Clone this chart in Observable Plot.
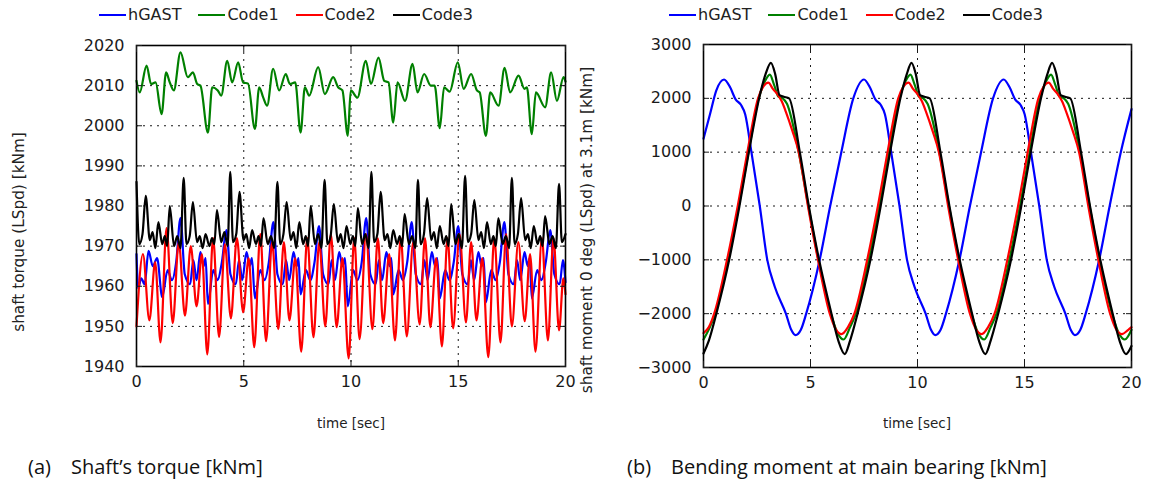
<!DOCTYPE html>
<html>
<head>
<meta charset="utf-8">
<script src="https://cdn.jsdelivr.net/npm/d3@7"></script>
<script src="https://cdn.jsdelivr.net/npm/@observablehq/plot@0.6"></script>
<style>
  body { margin: 0; background: #fff; }
  #root { position: relative; width: 1149px; height: 486px; overflow: hidden; background: #fff; font-family: "DejaVu Sans", sans-serif; color: #222; }
  .panel { position: absolute; top: 0; }
  .legend { position: absolute; top: 5px; display: flex; align-items: center; font-size: 16px; white-space: nowrap; }
  .legend .item { display: flex; align-items: center; margin-right: 17px; }
  .legend .sw { width: 27px; height: 2px; margin-right: 2px; }
  .ylab { position: absolute; font-size: 15.3px; white-space: nowrap; transform: translate(-50%, -50%) rotate(-90deg); }
  .xlab { position: absolute; font-size: 13.5px; white-space: nowrap; transform: translate(-50%, -50%); }
  .cap { position: absolute; top: 453px; font-family: "Open Sans", sans-serif; font-size: 20px; color: #111; white-space: nowrap; }
</style>
</head>
<body>
<div id="root"></div>
<script>
// ---------- series meta ----------
const seriesNames = ["hGAST", "Code1", "Code2", "Code3"];
const seriesColors = ["#0000ff", "#008000", "#ff0000", "#000000"];

// ---------- axis ticks ----------
const timeTicks = [0, 5, 10, 15, 20];
const torqueTicks = [1940, 1950, 1960, 1970, 1980, 1990, 2000, 2010, 2020];
const momentTicks = [-3000, -2000, -1000, 0, 1000, 2000, 3000];

// ---------- (a) shaft torque [kNm] ----------
const hgastT_a = [0,0.08,0.22,0.38,0.56,0.76,0.96,1.2,1.45,1.65,1.85,2.05,2.25,2.5,2.65,2.8,2.98,3.13,3.22,3.33,3.58,3.78,3.98,4.19,4.38,4.63,4.78,4.93,5.13,5.28,5.38,5.52,5.77,5.97,6.17,6.38,6.57,6.82,6.97,7.12,7.32,7.47,7.55,7.65,7.9,8.1,8.3,8.51,8.7,8.95,9.1,9.25,9.45,9.6,9.72,9.85,10.1,10.3,10.5,10.71,10.9,11.15,11.3,11.45,11.65,11.8,11.88,11.97,12.22,12.42,12.62,12.83,13.02,13.27,13.42,13.57,13.77,13.92,14.02,14.14,14.39,14.59,14.79,15.0,15.19,15.44,15.59,15.74,15.94,16.09,16.18,16.29,16.54,16.74,16.94,17.15,17.34,17.59,17.74,17.89,18.09,18.24,18.33,18.43,18.68,18.88,19.08,19.29,19.48,19.73,19.88,20.0];
const hgastV_a = [1968,1959.5,1962,1960.5,1968.8,1965,1967,1957.3,1964,1961.5,1966,1977,1963,1960.5,1966.5,1961.5,1968.5,1965,1967,1955.6,1964,1961.5,1966,1974,1963,1960.5,1966.5,1961.5,1968.5,1965,1967,1957,1964,1961.5,1966,1976,1963,1960.5,1966.5,1961.5,1968.5,1965,1967,1958,1964,1961.5,1966,1975,1963,1960.5,1966.5,1961.5,1968.5,1965,1967,1955,1964,1961.5,1966,1977,1963,1960.5,1966.5,1961.5,1968.5,1965,1967,1958,1964,1961.5,1966,1976,1963,1960.5,1966.5,1961.5,1968.5,1965,1967,1957,1964,1961.5,1966,1975,1963,1960.5,1966.5,1961.5,1968.5,1965,1967,1956,1964,1961.5,1966,1976,1963,1960.5,1966.5,1961.5,1968.5,1965,1967,1957,1964,1961.5,1966,1974,1963,1960.5,1966.5,1961];

const code1T_a = [0,0.15,0.47,0.68,0.89,1.17,1.38,1.55,1.74,2.05,2.39,2.63,2.83,2.98,3.33,3.53,3.79,3.95,4.23,4.46,4.74,4.97,5.2,5.52,5.72,5.91,6.09,6.37,6.65,6.96,7.15,7.4,7.65,7.85,8.05,8.47,8.78,9.17,9.4,9.6,9.85,9.99,10.3,10.69,10.93,11.28,11.55,11.75,11.97,12.17,12.52,12.87,13.1,13.41,13.72,13.9,14.14,14.34,14.6,14.98,15.25,15.6,15.87,16.0,16.29,16.49,16.88,17.16,17.42,17.81,18.09,18.2,18.43,18.62,19.05,19.33,19.6,19.91,20.0];
const code1V_a = [2011.2,2008.3,2015,2010.4,2010.8,2002.9,2013.3,2010.8,2008.8,2018.3,2012.1,2013.3,2010.4,2010,1998.3,2009.6,2008.8,2007.5,2016.2,2010.8,2015.8,2010.8,2010.5,1999.2,2009.6,2007,2005,2014.2,2008.8,2012.9,2010.4,2010.8,1998.3,2009.6,2007.5,2014.6,2007.9,2012.1,2009.6,2008.8,1997.5,2008.8,2007,2016.2,2010.4,2017,2011.2,2010.8,2000.8,2010.8,2006.2,2015.4,2008.3,2012.9,2010,2010,1999.4,2009.6,2008.5,2015.8,2009.2,2012.9,2008.8,2008.3,1997.5,2008.3,2005,2014.4,2008.3,2012.5,2009.2,2009.6,1997.9,2008.3,2004.6,2013.3,2006.2,2012.1,2011];

const code2T_a = [0,0.3,0.6,0.87,1.12,1.4,1.69,1.97,2.26,2.53,2.8,3.05,3.3,3.57,3.85,4.12,4.4,4.68,4.97,5.23,5.49,5.77,6.04,6.32,6.61,6.87,7.13,7.4,7.68,7.96,8.25,8.52,8.8,9.06,9.33,9.6,9.89,10.15,10.4,10.7,11.0,11.25,11.5,11.78,12.05,12.32,12.6,12.9,13.2,13.45,13.7,13.97,14.24,14.5,14.76,15.06,15.36,15.6,15.85,16.12,16.4,16.68,16.97,17.23,17.5,17.8,18.1,18.35,18.6,18.9,19.18,19.44,19.7,19.9,20.0];
const code2V_a = [1950,1968,1951.5,1966,1946,1974.5,1950.8,1971,1952.7,1970,1955,1968,1943,1972,1947.4,1970.5,1952,1972,1953.5,1967,1944.8,1973,1946.3,1971,1949.3,1971,1951.5,1967,1943.7,1972,1947.3,1971,1950,1973,1949.8,1967,1942,1972,1946.8,1973,1949.3,1972,1950.8,1968,1946.5,1972,1947.5,1971,1950.5,1972,1949.8,1967,1945,1972,1949.5,1973,1951,1971,1951.5,1967,1942.3,1972,1946,1973,1950,1971,1951.3,1968,1943.7,1972,1946.5,1972,1949,1962,1958];

const code3T_a = [0,0.13,0.28,0.43,0.62,0.75,0.88,1.02,1.2,1.32,1.43,1.55,1.75,1.9,2.05,
  2.2,2.33,2.48,2.63,2.82,2.95,3.08,3.22,3.4,3.52,3.63,3.75,3.95,4.1,4.25,
  4.37,4.5,4.65,4.8,4.99,5.12,5.25,5.39,5.57,5.69,5.8,5.92,6.12,6.27,6.42,
  6.57,6.7,6.85,7.0,7.19,7.32,7.45,7.59,7.77,7.89,8.0,8.12,8.32,8.47,8.62,
  8.77,8.9,9.05,9.2,9.39,9.52,9.65,9.79,9.97,10.09,10.2,10.32,10.52,10.67,10.82,
  10.95,11.08,11.23,11.38,11.57,11.7,11.83,11.97,12.15,12.27,12.38,12.5,12.7,12.85,13.0,
  13.12,13.25,13.4,13.55,13.74,13.87,14.0,14.14,14.32,14.44,14.55,14.67,14.87,15.02,15.17,
  15.32,15.45,15.6,15.75,15.94,16.07,16.2,16.34,16.52,16.64,16.75,16.87,17.07,17.22,17.37,
  17.5,17.63,17.78,17.93,18.12,18.25,18.38,18.52,18.7,18.82,18.93,19.05,19.25,19.4,19.55,
  19.7,19.83,20.0];
const code3V_a = [1986,1970.5,1973,1982.5,1971.5,1973.5,1969.5,1976,1970.5,1972.5,1970,1980,1970,1972.5,1969.5,
  1987,1970.5,1972.5,1981,1971,1972.5,1969.5,1973,1970,1972,1970.5,1979,1971,1973.5,1970,
  1988.5,1971,1973,1983.5,1971.5,1973,1969.5,1974,1970.5,1972.5,1970,1977,1970.5,1972.5,1969.5,
  1986,1970.5,1973,1981,1971.5,1973.5,1969.5,1976,1970.5,1972.5,1970,1980,1970.5,1973,1969.5,
  1986.5,1970.5,1972.5,1980.5,1971,1973,1969.5,1975,1970.5,1972.5,1970,1979.5,1970.5,1973,1969.5,
  1988.5,1971,1973,1983.5,1971.5,1973,1969.5,1974,1970.5,1972.5,1970,1978,1970.5,1972.5,1969.5,
  1986.5,1970.5,1973,1982,1971.5,1973.5,1969.5,1975,1970.5,1972.5,1970,1980.5,1970.5,1973,1969.5,
  1987.5,1971,1973,1981.5,1971.5,1973.5,1969.5,1976,1970.5,1972.5,1970,1977,1970.5,1972.5,1969.5,
  1987,1970.5,1973,1982,1971.5,1973,1969.5,1975,1970.5,1972.5,1970,1977.5,1970.5,1972.5,1969.5,
  1985.5,1971,1973];

// ---------- (b) bending moment at main bearing [kNm] ----------
const hgastT_b = [0,0.3,0.6,0.96,1.25,1.5,1.75,1.95,2.24,2.63,2.98,3.33,3.85,4.1,4.3,4.55,4.8,5.43,5.92,6.44,7.0,7.5,7.78,8.03,8.28,8.48,8.77,9.16,9.51,9.86,10.38,10.63,10.83,11.08,11.33,11.96,12.45,12.97,13.53,14.03,14.31,14.56,14.81,15.01,15.3,15.69,16.04,16.39,16.91,17.16,17.36,17.61,17.86,18.49,18.98,19.5,20.0];
const hgastV_b = [1250,1700,2150,2350,2200,1980,1880,1700,1000,0,-1000,-1500,-2000,-2300,-2400,-2300,-2000,-1000,0,1000,2000,2350,2200,1980,1880,1700,1000,0,-1000,-1500,-2000,-2300,-2400,-2300,-2000,-1000,0,1000,2000,2350,2200,1980,1880,1700,1000,0,-1000,-1500,-2000,-2300,-2400,-2300,-2000,-1000,0,1000,1800];

const code1T_b = [0,0.3,0.55,1.15,1.65,2.1,2.58,2.85,3.1,3.3,3.5,3.7,3.9,4.45,4.9,5.37,5.95,6.25,6.55,6.85,7.12,7.72,8.22,8.67,9.15,9.42,9.67,9.87,10.07,10.27,10.47,11.02,11.47,11.94,12.52,12.82,13.12,13.42,13.69,14.29,14.79,15.24,15.72,15.99,16.24,16.44,16.64,16.84,17.04,17.59,18.04,18.51,19.09,19.39,19.69,20.0];
const code1V_b = [-2480,-2250,-2000,-1000,0,1000,2000,2300,2440,2250,2030,2000,1900,1000,0,-1000,-2000,-2350,-2480,-2250,-2000,-1000,0,1000,2000,2300,2440,2250,2030,2000,1900,1000,0,-1000,-2000,-2350,-2480,-2250,-2000,-1000,0,1000,2000,2300,2440,2250,2030,2000,1900,1000,0,-1000,-2000,-2350,-2480,-2300];

const code2T_b = [0,0.25,0.5,1.1,1.6,2.05,2.55,2.8,3.03,3.25,3.45,3.65,3.85,4.15,4.45,4.88,5.35,5.9,6.2,6.45,6.75,7.05,7.65,8.15,8.6,9.1,9.35,9.58,9.8,10.0,10.2,10.4,10.7,11.0,11.43,11.9,12.45,12.75,13.0,13.3,13.6,14.2,14.7,15.15,15.65,15.9,16.13,16.35,16.55,16.75,16.95,17.25,17.55,17.98,18.45,19.0,19.3,19.55,19.85,20.0];
const code2V_b = [-2360,-2250,-2000,-1000,0,1000,2000,2220,2290,2170,2080,1950,1750,1400,1000,0,-1000,-2000,-2300,-2380,-2250,-2000,-1000,0,1000,2000,2220,2290,2170,2080,1950,1750,1400,1000,0,-1000,-2000,-2300,-2380,-2250,-2000,-1000,0,1000,2000,2220,2290,2170,2080,1950,1750,1400,1000,0,-1000,-2000,-2300,-2380,-2300,-2250];

const code3T_b = [0,0.25,0.6,1.2,1.68,2.12,2.6,2.9,3.15,3.35,3.55,3.75,4.0,4.5,4.92,5.4,5.98,6.3,6.6,6.85,7.2,7.8,8.28,8.72,9.2,9.5,9.72,9.92,10.12,10.32,10.57,11.07,11.49,11.97,12.55,12.87,13.17,13.42,13.77,14.37,14.85,15.29,15.77,16.07,16.29,16.49,16.69,16.89,17.14,17.64,18.06,18.54,19.12,19.44,19.74,20.0];
const code3V_b = [-2740,-2500,-2000,-1000,0,1000,2000,2450,2660,2450,2060,2030,2000,1000,0,-1000,-2000,-2500,-2750,-2500,-2000,-1000,0,1000,2000,2450,2660,2450,2060,2030,2000,1000,0,-1000,-2000,-2500,-2750,-2500,-2000,-1000,0,1000,2000,2450,2660,2450,2060,2030,2000,1000,0,-1000,-2000,-2500,-2750,-2600];

// ---------- build tables ----------
function rows(name, T, V) { return T.map((t, i) => ({series: name, t, v: V[i]})); }
const dataA = [
  ...rows("hGAST", hgastT_a, hgastV_a), ...rows("Code1", code1T_a, code1V_a),
  ...rows("Code2", code2T_a, code2V_a), ...rows("Code3", code3T_a, code3V_a)
];
const dataB = [
  ...rows("hGAST", hgastT_b, hgastV_b), ...rows("Code1", code1T_b, code1V_b),
  ...rows("Code2", code2T_b, code2V_b), ...rows("Code3", code3T_b, code3V_b)
];

const fmt = d3.format("d");

function makePlot(data, yDomain, yTicks, m) {
  return Plot.plot({
    width: 575, height: 440,
    marginLeft: m.left, marginRight: m.right, marginTop: m.top, marginBottom: 440 - m.bottomY,
    x: {domain: [0, 20], ticks: timeTicks},
    y: {domain: yDomain, ticks: yTicks},
    color: {domain: seriesNames, range: seriesColors},
    style: {fontFamily: "DejaVu Sans, sans-serif", fontSize: "16px", color: "#1a1a1a", background: "transparent", overflow: "visible"},
    marks: [
      Plot.gridX(timeTicks, {stroke: "#000", strokeOpacity: 0.9, strokeDasharray: "2,5", strokeWidth: 1}),
      Plot.gridY(yTicks, {stroke: "#000", strokeOpacity: 0.9, strokeDasharray: "2,5", strokeWidth: 1}),
      Plot.line(data, {x: "t", y: "v", z: "series", stroke: "series", strokeWidth: 2.2, curve: "monotone-x"}),
      Plot.frame({stroke: "#000", strokeWidth: 1.6}),
      Plot.axisX(timeTicks, {anchor: "bottom", tickSize: -6, tickPadding: 15, tickFormat: fmt, label: null, fontSize: 16}),
      Plot.axisX(timeTicks, {anchor: "top", tickSize: -6, tickFormat: () => "", label: null}),
      Plot.axisY(yTicks, {anchor: "left", tickSize: -6, tickPadding: 18, tickFormat: fmt, label: null, fontSize: 16}),
      Plot.axisY(yTicks, {anchor: "right", tickSize: -6, tickFormat: () => "", label: null})
    ]
  });
}

const root = document.getElementById("root");

function addPanel(left, plot) {
  const d = document.createElement("div");
  d.className = "panel";
  d.style.left = left + "px";
  d.appendChild(plot);
  root.appendChild(d);
}

function addLegend(left) {
  const lg = document.createElement("div");
  lg.className = "legend";
  lg.style.left = left + "px";
  seriesNames.forEach((n, i) => {
    const it = document.createElement("div");
    it.className = "item";
    const sw = document.createElement("span");
    sw.className = "sw";
    sw.style.background = seriesColors[i];
    const tx = document.createElement("span");
    tx.textContent = n;
    it.appendChild(sw); it.appendChild(tx);
    lg.appendChild(it);
  });
  root.appendChild(lg);
}

function addText(cls, text, x, y) {
  const d = document.createElement("div");
  d.className = cls;
  d.textContent = text;
  d.style.left = x + "px";
  d.style.top = y + "px";
  root.appendChild(d);
}

addPanel(0, makePlot(dataA, [1940, 2020], torqueTicks, {left: 136, right: 10, top: 45, bottomY: 366}));
addPanel(574, makePlot(dataB, [-3000, 3000], momentTicks, {left: 129, right: 18, top: 44, bottomY: 367}));

addLegend(99);
addLegend(669);

addText("ylab", "shaft torque (LSpd) [kNm]", 19, 232);
addText("ylab", "shaft moment 0 deg (LSpd) at 3.1m [kNm]", 587, 230);
addText("xlab", "time [sec]", 351, 423);
addText("xlab", "time [sec]", 917, 423);

const capA = document.createElement("div");
capA.className = "cap"; capA.style.left = "28px";
capA.innerHTML = "<span>(a)</span><span style='margin-left:20px'>Shaft’s torque [kNm]</span>";
root.appendChild(capA);
const capB = document.createElement("div");
capB.className = "cap"; capB.style.left = "627px";
capB.innerHTML = "<span>(b)</span><span style='margin-left:20px'>Bending moment at main bearing [kNm]</span>";
root.appendChild(capB);
</script>
</body>
</html>
